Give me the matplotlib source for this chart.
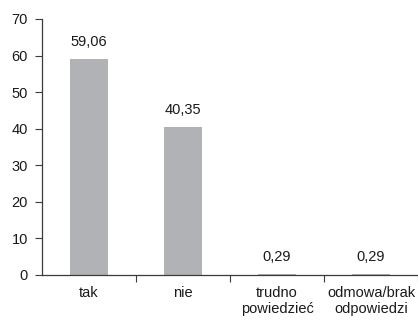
import matplotlib
matplotlib.use("Agg")
import matplotlib.pyplot as plt
from matplotlib import font_manager

categories = ["tak", "nie", "trudno\npowiedzieć", "odmowa/brak\nodpowiedzi"]
values = [59.06, 40.35, 0.29, 0.29]
labels = ["59,06", "40,35", "0,29", "0,29"]
yticks = [0, 10, 20, 30, 40, 50, 60, 70]

names = {f.name for f in font_manager.fontManager.ttflist}
family = "Liberation Sans Narrow" if "Liberation Sans Narrow" in names else "Liberation Sans"
plt.rcParams["font.family"] = [family, "DejaVu Sans"]

axis_color = "#3a3a3a"
text_color = "#1a1a1a"
fs = 10.5

fig = plt.figure(figsize=(4.18, 3.25), dpi=100)
ax = fig.add_axes([42 / 418, 50 / 325, 376 / 418, 256 / 325])

x = list(range(len(categories)))
ax.bar(x, values, width=0.4, color="#b1b2b6", zorder=2)

for xi, v, lab in zip(x, values, labels):
    ax.text(xi, v + 2.8, lab, ha="center", va="bottom", fontsize=fs, color=text_color)

ax.set_xlim(-0.5, 3.5)
ax.set_ylim(0, 70)
ax.set_yticks(yticks)
ax.set_yticklabels([str(t) for t in yticks], fontsize=fs, color=text_color)

# category labels sit between the boundary ticks
ax.set_xticks([i + 0.5 for i in range(len(categories))])
ax.tick_params(axis="x", length=5, color=axis_color, labelbottom=False)
ax.tick_params(axis="y", length=5, color=axis_color, pad=5)
for xi, cat in zip(x, categories):
    ax.text(xi, -3.0, cat, ha="center", va="top", fontsize=fs, color=text_color,
            linespacing=1.15)

for side in ("top", "right"):
    ax.spines[side].set_visible(False)
for side in ("left", "bottom"):
    ax.spines[side].set_color(axis_color)
    ax.spines[side].set_linewidth(0.9)

fig.savefig("out.png", dpi=100, facecolor="white")
